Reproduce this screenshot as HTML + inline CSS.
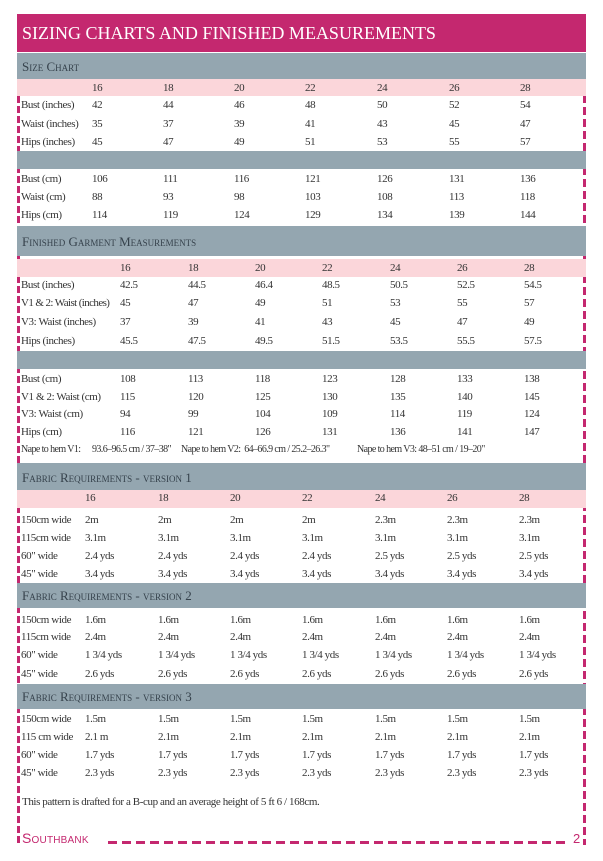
<!DOCTYPE html>
<html><head><meta charset="utf-8"><style>
*{margin:0;padding:0;box-sizing:border-box}
body{width:603px;height:861px;background:#fff;position:relative;overflow:hidden;font-family:"Liberation Serif",serif;color:#333;font-size:11px;letter-spacing:-0.4px}
.a{position:absolute}
.hd{left:17px;top:14px;width:569px;height:38px;background:#c4286f;color:#fff;font-size:18px;padding:9px 0 0 5px;letter-spacing:0}
.g{left:17px;width:569px;background:#94a6b0;color:#36424c;font-size:13px;padding-left:5px;font-variant:small-caps;letter-spacing:0;line-height:1}
.p{left:17px;width:569px;background:#fbd6da}
.r{position:absolute;left:0;width:603px;height:14px;line-height:14px}
.r span{position:absolute;white-space:nowrap}
.ld{left:17px;top:96px;width:3px;height:748px;background:repeating-linear-gradient(#c4286f 0 7px,transparent 7px 10px)}
.rd{left:583px;top:95px;width:3px;height:750px;background:repeating-linear-gradient(#c4286f 0 8px,transparent 8px 12px)}
.bd{left:108px;top:841px;width:460px;height:3px;background:repeating-linear-gradient(90deg,#c4286f 0 9px,transparent 9px 14px)}
</style></head><body>
<div class="a ld"></div><div class="a rd"></div><div class="a bd"></div>
<div class="a hd">SIZING CHARTS AND FINISHED MEASUREMENTS</div>
<div class="a g" style="top:53px;height:26px;padding-top:7px">Size Chart</div>
<div class="a p" style="top:79px;height:17px"></div>
<div class="a g" style="top:151px;height:18px"></div>
<div class="a g" style="top:226px;height:30px;padding-top:9px">Finished Garment Measurements</div>
<div class="a p" style="top:259px;height:18px"></div>
<div class="a g" style="top:351px;height:18px"></div>
<div class="a g" style="top:463px;height:27px;padding-top:8px">Fabric Requirements - version 1</div>
<div class="a p" style="top:490px;height:18px"></div>
<div class="a g" style="top:583px;height:25px;padding-top:6px">Fabric Requirements - version 2</div>
<div class="a g" style="top:684px;height:25px;padding-top:6px">Fabric Requirements - version 3</div>

<div class="r" style="top:81px"><span style="left:92px">16</span><span style="left:163px">18</span><span style="left:234px">20</span><span style="left:305px">22</span><span style="left:377px">24</span><span style="left:449px">26</span><span style="left:520px">28</span></div>
<div class="r" style="top:98px"><span style="left:21px">Bust (inches)</span><span style="left:92px">42</span><span style="left:163px">44</span><span style="left:234px">46</span><span style="left:305px">48</span><span style="left:377px">50</span><span style="left:449px">52</span><span style="left:520px">54</span></div>
<div class="r" style="top:117px"><span style="left:21px">Waist (inches)</span><span style="left:92px">35</span><span style="left:163px">37</span><span style="left:234px">39</span><span style="left:305px">41</span><span style="left:377px">43</span><span style="left:449px">45</span><span style="left:520px">47</span></div>
<div class="r" style="top:135px"><span style="left:21px">Hips (inches)</span><span style="left:92px">45</span><span style="left:163px">47</span><span style="left:234px">49</span><span style="left:305px">51</span><span style="left:377px">53</span><span style="left:449px">55</span><span style="left:520px">57</span></div>
<div class="r" style="top:172px"><span style="left:21px">Bust (cm)</span><span style="left:92px">106</span><span style="left:163px">111</span><span style="left:234px">116</span><span style="left:305px">121</span><span style="left:377px">126</span><span style="left:449px">131</span><span style="left:520px">136</span></div>
<div class="r" style="top:190px"><span style="left:21px">Waist (cm)</span><span style="left:92px">88</span><span style="left:163px">93</span><span style="left:234px">98</span><span style="left:305px">103</span><span style="left:377px">108</span><span style="left:449px">113</span><span style="left:520px">118</span></div>
<div class="r" style="top:208px"><span style="left:21px">Hips (cm)</span><span style="left:92px">114</span><span style="left:163px">119</span><span style="left:234px">124</span><span style="left:305px">129</span><span style="left:377px">134</span><span style="left:449px">139</span><span style="left:520px">144</span></div>

<div class="r" style="top:261px"><span style="left:120px">16</span><span style="left:188px">18</span><span style="left:255px">20</span><span style="left:322px">22</span><span style="left:390px">24</span><span style="left:457px">26</span><span style="left:524px">28</span></div>
<div class="r" style="top:278px"><span style="left:21px">Bust (inches)</span><span style="left:120px">42.5</span><span style="left:188px">44.5</span><span style="left:255px">46.4</span><span style="left:322px">48.5</span><span style="left:390px">50.5</span><span style="left:457px">52.5</span><span style="left:524px">54.5</span></div>
<div class="r" style="top:296px"><span style="left:21px;letter-spacing:-0.6px">V1 &amp; 2: Waist (inches)</span><span style="left:120px">45</span><span style="left:188px">47</span><span style="left:255px">49</span><span style="left:322px">51</span><span style="left:390px">53</span><span style="left:457px">55</span><span style="left:524px">57</span></div>
<div class="r" style="top:315px"><span style="left:21px">V3: Waist (inches)</span><span style="left:120px">37</span><span style="left:188px">39</span><span style="left:255px">41</span><span style="left:322px">43</span><span style="left:390px">45</span><span style="left:457px">47</span><span style="left:524px">49</span></div>
<div class="r" style="top:334px"><span style="left:21px">Hips (inches)</span><span style="left:120px">45.5</span><span style="left:188px">47.5</span><span style="left:255px">49.5</span><span style="left:322px">51.5</span><span style="left:390px">53.5</span><span style="left:457px">55.5</span><span style="left:524px">57.5</span></div>
<div class="r" style="top:372px"><span style="left:21px">Bust (cm)</span><span style="left:120px">108</span><span style="left:188px">113</span><span style="left:255px">118</span><span style="left:322px">123</span><span style="left:390px">128</span><span style="left:457px">133</span><span style="left:524px">138</span></div>
<div class="r" style="top:390px"><span style="left:21px">V1 &amp; 2: Waist (cm)</span><span style="left:120px">115</span><span style="left:188px">120</span><span style="left:255px">125</span><span style="left:322px">130</span><span style="left:390px">135</span><span style="left:457px">140</span><span style="left:524px">145</span></div>
<div class="r" style="top:407px"><span style="left:21px">V3: Waist (cm)</span><span style="left:120px">94</span><span style="left:188px">99</span><span style="left:255px">104</span><span style="left:322px">109</span><span style="left:390px">114</span><span style="left:457px">119</span><span style="left:524px">124</span></div>
<div class="r" style="top:425px"><span style="left:21px">Hips (cm)</span><span style="left:120px">116</span><span style="left:188px">121</span><span style="left:255px">126</span><span style="left:322px">131</span><span style="left:390px">136</span><span style="left:457px">141</span><span style="left:524px">147</span></div>
<div class="r" style="top:443px;font-size:10px;letter-spacing:-0.6px"><span style="left:21px">Nape to hem V1:</span><span style="left:92px">93.6–96.5 cm / 37–38"</span><span style="left:181px">Nape to hem V2:&nbsp; 64–66.9 cm / 25.2–26.3"</span><span style="left:357px">Nape to hem V3: 48–51 cm / 19–20"</span></div>

<div class="r" style="top:491px"><span style="left:85px">16</span><span style="left:158px">18</span><span style="left:230px">20</span><span style="left:302px">22</span><span style="left:375px">24</span><span style="left:447px">26</span><span style="left:519px">28</span></div>
<div class="r" style="top:513px"><span style="left:21px">150cm wide</span><span style="left:85px">2m</span><span style="left:158px">2m</span><span style="left:230px">2m</span><span style="left:302px">2m</span><span style="left:375px">2.3m</span><span style="left:447px">2.3m</span><span style="left:519px">2.3m</span></div>
<div class="r" style="top:531px"><span style="left:21px">115cm wide</span><span style="left:85px">3.1m</span><span style="left:158px">3.1m</span><span style="left:230px">3.1m</span><span style="left:302px">3.1m</span><span style="left:375px">3.1m</span><span style="left:447px">3.1m</span><span style="left:519px">3.1m</span></div>
<div class="r" style="top:549px"><span style="left:21px">60" wide</span><span style="left:85px">2.4 yds</span><span style="left:158px">2.4 yds</span><span style="left:230px">2.4 yds</span><span style="left:302px">2.4 yds</span><span style="left:375px">2.5 yds</span><span style="left:447px">2.5 yds</span><span style="left:519px">2.5 yds</span></div>
<div class="r" style="top:567px"><span style="left:21px">45" wide</span><span style="left:85px">3.4 yds</span><span style="left:158px">3.4 yds</span><span style="left:230px">3.4 yds</span><span style="left:302px">3.4 yds</span><span style="left:375px">3.4 yds</span><span style="left:447px">3.4 yds</span><span style="left:519px">3.4 yds</span></div>

<div class="r" style="top:613px"><span style="left:21px">150cm wide</span><span style="left:85px">1.6m</span><span style="left:158px">1.6m</span><span style="left:230px">1.6m</span><span style="left:302px">1.6m</span><span style="left:375px">1.6m</span><span style="left:447px">1.6m</span><span style="left:519px">1.6m</span></div>
<div class="r" style="top:630px"><span style="left:21px">115cm wide</span><span style="left:85px">2.4m</span><span style="left:158px">2.4m</span><span style="left:230px">2.4m</span><span style="left:302px">2.4m</span><span style="left:375px">2.4m</span><span style="left:447px">2.4m</span><span style="left:519px">2.4m</span></div>
<div class="r" style="top:648px"><span style="left:21px">60" wide</span><span style="left:85px">1 3/4 yds</span><span style="left:158px">1 3/4 yds</span><span style="left:230px">1 3/4 yds</span><span style="left:302px">1 3/4 yds</span><span style="left:375px">1 3/4 yds</span><span style="left:447px">1 3/4 yds</span><span style="left:519px">1 3/4 yds</span></div>
<div class="r" style="top:667px"><span style="left:21px">45" wide</span><span style="left:85px">2.6 yds</span><span style="left:158px">2.6 yds</span><span style="left:230px">2.6 yds</span><span style="left:302px">2.6 yds</span><span style="left:375px">2.6 yds</span><span style="left:447px">2.6 yds</span><span style="left:519px">2.6 yds</span></div>

<div class="r" style="top:712px"><span style="left:21px">150cm wide</span><span style="left:85px">1.5m</span><span style="left:158px">1.5m</span><span style="left:230px">1.5m</span><span style="left:302px">1.5m</span><span style="left:375px">1.5m</span><span style="left:447px">1.5m</span><span style="left:519px">1.5m</span></div>
<div class="r" style="top:730px"><span style="left:21px">115 cm wide</span><span style="left:85px">2.1 m</span><span style="left:158px">2.1m</span><span style="left:230px">2.1m</span><span style="left:302px">2.1m</span><span style="left:375px">2.1m</span><span style="left:447px">2.1m</span><span style="left:519px">2.1m</span></div>
<div class="r" style="top:748px"><span style="left:21px">60" wide</span><span style="left:85px">1.7 yds</span><span style="left:158px">1.7 yds</span><span style="left:230px">1.7 yds</span><span style="left:302px">1.7 yds</span><span style="left:375px">1.7 yds</span><span style="left:447px">1.7 yds</span><span style="left:519px">1.7 yds</span></div>
<div class="r" style="top:766px"><span style="left:21px">45" wide</span><span style="left:85px">2.3 yds</span><span style="left:158px">2.3 yds</span><span style="left:230px">2.3 yds</span><span style="left:302px">2.3 yds</span><span style="left:375px">2.3 yds</span><span style="left:447px">2.3 yds</span><span style="left:519px">2.3 yds</span></div>

<div class="r" style="top:795px"><span style="left:22px">This pattern is drafted for a B-cup and an average height of 5 ft 6 / 168cm.</span></div>
<div class="a" style="left:22px;top:830px;font-family:'Liberation Sans',sans-serif;color:#c4286f;font-size:14px;font-variant:small-caps;letter-spacing:0.2px">Southbank</div>
<div class="a" style="left:573px;top:831px;font-family:'Liberation Sans',sans-serif;color:#c4286f;font-size:13px">2</div>
</body></html>
